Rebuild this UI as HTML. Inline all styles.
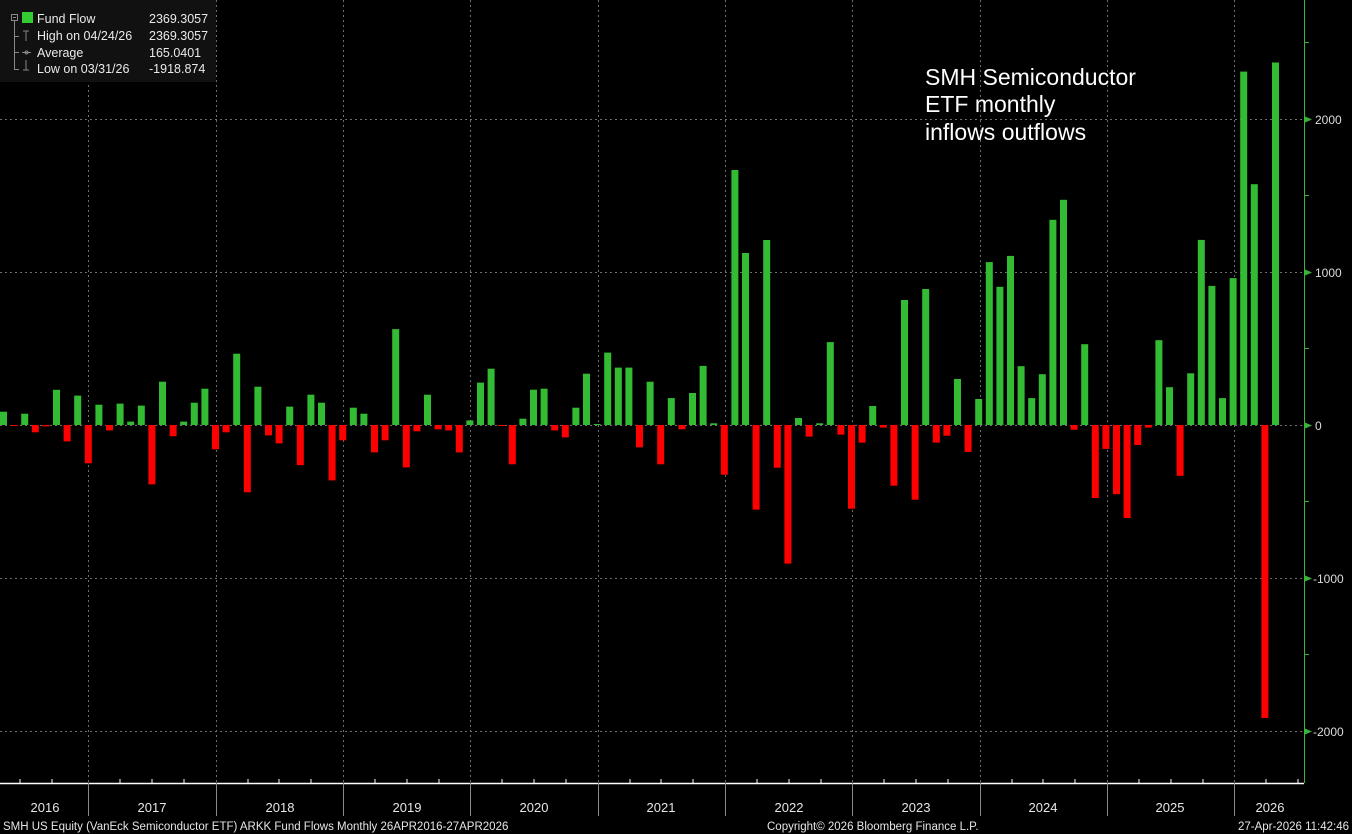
<!DOCTYPE html>
<html><head><meta charset="utf-8"><style>
html,body{margin:0;padding:0;background:#000;}
svg{display:block;font-family:"Liberation Sans",sans-serif;}
</style></head><body>
<svg width="1352" height="834" viewBox="0 0 1352 834" xmlns="http://www.w3.org/2000/svg">
<rect width="1352" height="834" fill="#000"/>
<g stroke="#6e6e6e" stroke-width="1" stroke-dasharray="2,3">
<line x1="0" y1="119.5" x2="1304" y2="119.5"/>
<line x1="0" y1="272.5" x2="1304" y2="272.5"/>
<line x1="0" y1="425.5" x2="1304" y2="425.5"/>
<line x1="0" y1="578.5" x2="1304" y2="578.5"/>
<line x1="0" y1="731.5" x2="1304" y2="731.5"/>
<line x1="88.5" y1="0" x2="88.5" y2="783"/>
<line x1="216.5" y1="0" x2="216.5" y2="783"/>
<line x1="343.5" y1="0" x2="343.5" y2="783"/>
<line x1="470.5" y1="0" x2="470.5" y2="783"/>
<line x1="598.5" y1="0" x2="598.5" y2="783"/>
<line x1="725.5" y1="0" x2="725.5" y2="783"/>
<line x1="852.5" y1="0" x2="852.5" y2="783"/>
<line x1="980.5" y1="0" x2="980.5" y2="783"/>
<line x1="1107.5" y1="0" x2="1107.5" y2="783"/>
<line x1="1234.5" y1="0" x2="1234.5" y2="783"/>
</g>
<g fill="#33bb33">
<rect x="0" y="411.7" width="7" height="13.3"/>
<rect x="21.2" y="413.7" width="7" height="11.3"/>
<rect x="53" y="389.8" width="7" height="35.2"/>
<rect x="74.2" y="395.6" width="7" height="29.4"/>
<rect x="95.4" y="404.7" width="7" height="20.3"/>
<rect x="116.6" y="403.6" width="7" height="21.4"/>
<rect x="127.2" y="421.6" width="7" height="3.4"/>
<rect x="137.8" y="405.6" width="7" height="19.4"/>
<rect x="159" y="381.7" width="7" height="43.3"/>
<rect x="180.2" y="421.6" width="7" height="3.4"/>
<rect x="190.8" y="402.7" width="7" height="22.3"/>
<rect x="201.4" y="388.7" width="7" height="36.3"/>
<rect x="233.2" y="353.7" width="7" height="71.3"/>
<rect x="254.4" y="386.7" width="7" height="38.3"/>
<rect x="286.2" y="406.6" width="7" height="18.4"/>
<rect x="307.4" y="394.7" width="7" height="30.3"/>
<rect x="318" y="402.7" width="7" height="22.3"/>
<rect x="349.8" y="407.7" width="7" height="17.3"/>
<rect x="360.4" y="413.7" width="7" height="11.3"/>
<rect x="392.2" y="329.1" width="7" height="95.9"/>
<rect x="424" y="394.7" width="7" height="30.3"/>
<rect x="466.4" y="420.4" width="7" height="4.6"/>
<rect x="477" y="382.6" width="7" height="42.4"/>
<rect x="487.6" y="368.7" width="7" height="56.3"/>
<rect x="519.4" y="418.7" width="7" height="6.3"/>
<rect x="530" y="389.7" width="7" height="35.3"/>
<rect x="540.6" y="388.7" width="7" height="36.3"/>
<rect x="572.4" y="407.7" width="7" height="17.3"/>
<rect x="583" y="373.7" width="7" height="51.3"/>
<rect x="593.6" y="424" width="7" height="1"/>
<rect x="604.2" y="352.6" width="7" height="72.4"/>
<rect x="614.8" y="367.6" width="7" height="57.4"/>
<rect x="625.4" y="367.6" width="7" height="57.4"/>
<rect x="646.6" y="381.7" width="7" height="43.3"/>
<rect x="667.8" y="398.1" width="7" height="26.9"/>
<rect x="689" y="393" width="7" height="32"/>
<rect x="699.6" y="365.9" width="7" height="59.1"/>
<rect x="710.2" y="423.3" width="7" height="1.7"/>
<rect x="731.4" y="170" width="7" height="255"/>
<rect x="742" y="253" width="7" height="172"/>
<rect x="763.2" y="240" width="7" height="185"/>
<rect x="795" y="418" width="7" height="7"/>
<rect x="816.2" y="423.3" width="7" height="1.7"/>
<rect x="826.8" y="342.1" width="7" height="82.9"/>
<rect x="869.2" y="406" width="7" height="19"/>
<rect x="901" y="300" width="7" height="125"/>
<rect x="922.2" y="289" width="7" height="136"/>
<rect x="954" y="379" width="7" height="46"/>
<rect x="975.2" y="399" width="7" height="26"/>
<rect x="985.8" y="262.1" width="7" height="162.9"/>
<rect x="996.4" y="286.8" width="7" height="138.2"/>
<rect x="1007" y="255.9" width="7" height="169.1"/>
<rect x="1017.6" y="366.2" width="7" height="58.8"/>
<rect x="1028.2" y="398.1" width="7" height="26.9"/>
<rect x="1038.8" y="374.2" width="7" height="50.8"/>
<rect x="1049.4" y="219.8" width="7" height="205.2"/>
<rect x="1060" y="199.8" width="7" height="225.2"/>
<rect x="1081.2" y="344.2" width="7" height="80.8"/>
<rect x="1155.4" y="340.2" width="7" height="84.8"/>
<rect x="1166" y="387.2" width="7" height="37.8"/>
<rect x="1187.2" y="373.3" width="7" height="51.7"/>
<rect x="1197.8" y="239.9" width="7" height="185.1"/>
<rect x="1208.4" y="285.9" width="7" height="139.1"/>
<rect x="1219" y="398.1" width="7" height="26.9"/>
<rect x="1229.6" y="278.1" width="7" height="146.9"/>
<rect x="1240.2" y="71.6" width="7" height="353.4"/>
<rect x="1250.8" y="184.2" width="7" height="240.8"/>
<rect x="1272" y="62.5" width="7" height="362.5"/>
</g>
<g fill="#ff0000">
<rect x="10.6" y="425" width="7" height="1"/>
<rect x="31.8" y="425" width="7" height="7.3"/>
<rect x="42.4" y="425" width="7" height="1.4"/>
<rect x="63.6" y="425" width="7" height="16.4"/>
<rect x="84.8" y="425" width="7" height="38.3"/>
<rect x="106" y="425" width="7" height="5.4"/>
<rect x="148.4" y="425" width="7" height="59.4"/>
<rect x="169.6" y="425" width="7" height="11.3"/>
<rect x="212" y="425" width="7" height="24.3"/>
<rect x="222.6" y="425" width="7" height="7.3"/>
<rect x="243.8" y="425" width="7" height="67.3"/>
<rect x="265" y="425" width="7" height="10.4"/>
<rect x="275.6" y="425" width="7" height="18.4"/>
<rect x="296.8" y="425" width="7" height="40.2"/>
<rect x="328.6" y="425" width="7" height="55.4"/>
<rect x="339.2" y="425" width="7" height="15.3"/>
<rect x="371" y="425" width="7" height="27.4"/>
<rect x="381.6" y="425" width="7" height="15.3"/>
<rect x="402.8" y="425" width="7" height="42.4"/>
<rect x="413.4" y="425" width="7" height="6.3"/>
<rect x="434.6" y="425" width="7" height="4.3"/>
<rect x="445.2" y="425" width="7" height="5.4"/>
<rect x="455.8" y="425" width="7" height="27.4"/>
<rect x="498.2" y="425" width="7" height="1"/>
<rect x="508.8" y="425" width="7" height="39.3"/>
<rect x="551.2" y="425" width="7" height="5.4"/>
<rect x="561.8" y="425" width="7" height="12.4"/>
<rect x="636" y="425" width="7" height="22.3"/>
<rect x="657.2" y="425" width="7" height="39.3"/>
<rect x="678.4" y="425" width="7" height="4.3"/>
<rect x="720.8" y="425" width="7" height="49.7"/>
<rect x="752.6" y="425" width="7" height="84.6"/>
<rect x="773.8" y="425" width="7" height="42.7"/>
<rect x="784.4" y="425" width="7" height="138.6"/>
<rect x="805.6" y="425" width="7" height="11.6"/>
<rect x="837.4" y="425" width="7" height="9.6"/>
<rect x="848" y="425" width="7" height="83.7"/>
<rect x="858.6" y="425" width="7" height="17.6"/>
<rect x="879.8" y="425" width="7" height="2.6"/>
<rect x="890.4" y="425" width="7" height="60.7"/>
<rect x="911.6" y="425" width="7" height="74.7"/>
<rect x="932.8" y="425" width="7" height="17.6"/>
<rect x="943.4" y="425" width="7" height="10.7"/>
<rect x="964.6" y="425" width="7" height="26.9"/>
<rect x="1070.6" y="425" width="7" height="4.7"/>
<rect x="1091.8" y="425" width="7" height="73"/>
<rect x="1102.4" y="425" width="7" height="23.9"/>
<rect x="1113" y="425" width="7" height="69.2"/>
<rect x="1123.6" y="425" width="7" height="93"/>
<rect x="1134.2" y="425" width="7" height="20"/>
<rect x="1144.8" y="425" width="7" height="2.6"/>
<rect x="1176.6" y="425" width="7" height="50.8"/>
<rect x="1261.4" y="425" width="7" height="293"/>
</g>
<!-- right axis -->
<line x1="1304.5" y1="0" x2="1304.5" y2="783" stroke="#3cb43c" stroke-width="1"/>
<g stroke="#3cb43c" stroke-width="1">
<line x1="1304" y1="42.5" x2="1309" y2="42.5"/>
<line x1="1304" y1="195.5" x2="1309" y2="195.5"/>
<line x1="1304" y1="348.5" x2="1309" y2="348.5"/>
<line x1="1304" y1="501.5" x2="1309" y2="501.5"/>
<line x1="1304" y1="654.5" x2="1309" y2="654.5"/>
</g>
<g fill="#3cb43c">
<polygon points="1305,116.5 1312,119.5 1305,122.5"/>
<polygon points="1305,269.5 1312,272.5 1305,275.5"/>
<polygon points="1305,422.5 1312,425.5 1305,428.5"/>
<polygon points="1305,575.5 1312,578.5 1305,581.5"/>
<polygon points="1305,728.5 1312,731.5 1305,734.5"/>
</g>
<g fill="#dcdcdc" font-size="12">
<text x="1315" y="124">2000</text>
<text x="1315" y="277">1000</text>
<text x="1315" y="430">0</text>
<text x="1313" y="583">-1000</text>
<text x="1313" y="736">-2000</text>
</g>
<!-- bottom axis -->
<line x1="0" y1="783.5" x2="1304" y2="783.5" stroke="#fff" stroke-width="1.5"/>
<g stroke="#fff" stroke-width="1">
<line x1="20" y1="779" x2="20" y2="783"/><line x1="52" y1="779" x2="52" y2="783"/>
<line x1="120" y1="779" x2="120" y2="783"/><line x1="152" y1="779" x2="152" y2="783"/><line x1="184" y1="779" x2="184" y2="783"/>
<line x1="248" y1="779" x2="248" y2="783"/><line x1="279" y1="779" x2="279" y2="783"/><line x1="311" y1="779" x2="311" y2="783"/>
<line x1="375" y1="779" x2="375" y2="783"/><line x1="407" y1="779" x2="407" y2="783"/><line x1="439" y1="779" x2="439" y2="783"/>
<line x1="502" y1="779" x2="502" y2="783"/><line x1="534" y1="779" x2="534" y2="783"/><line x1="566" y1="779" x2="566" y2="783"/>
<line x1="630" y1="779" x2="630" y2="783"/><line x1="661" y1="779" x2="661" y2="783"/><line x1="693" y1="779" x2="693" y2="783"/>
<line x1="757" y1="779" x2="757" y2="783"/><line x1="789" y1="779" x2="789" y2="783"/><line x1="821" y1="779" x2="821" y2="783"/>
<line x1="884" y1="779" x2="884" y2="783"/><line x1="916" y1="779" x2="916" y2="783"/><line x1="948" y1="779" x2="948" y2="783"/>
<line x1="1012" y1="779" x2="1012" y2="783"/><line x1="1043" y1="779" x2="1043" y2="783"/><line x1="1075" y1="779" x2="1075" y2="783"/>
<line x1="1139" y1="779" x2="1139" y2="783"/><line x1="1171" y1="779" x2="1171" y2="783"/><line x1="1203" y1="779" x2="1203" y2="783"/>
<line x1="1266" y1="779" x2="1266" y2="783"/><line x1="1298" y1="779" x2="1298" y2="783"/>
</g>
<g stroke="#8a8a8a" stroke-width="1">
<line x1="88.5" y1="783" x2="88.5" y2="816"/><line x1="216.5" y1="783" x2="216.5" y2="816"/>
<line x1="343.5" y1="783" x2="343.5" y2="816"/><line x1="470.5" y1="783" x2="470.5" y2="816"/>
<line x1="598.5" y1="783" x2="598.5" y2="816"/><line x1="725.5" y1="783" x2="725.5" y2="816"/>
<line x1="852.5" y1="783" x2="852.5" y2="816"/><line x1="980.5" y1="783" x2="980.5" y2="816"/>
<line x1="1107.5" y1="783" x2="1107.5" y2="816"/><line x1="1234.5" y1="783" x2="1234.5" y2="816"/>
</g>
<g fill="#e6e6e6" font-size="13" text-anchor="middle">
<text x="45" y="812">2016</text><text x="152" y="812">2017</text><text x="280" y="812">2018</text>
<text x="407" y="812">2019</text><text x="534" y="812">2020</text><text x="661" y="812">2021</text>
<text x="789" y="812">2022</text><text x="916" y="812">2023</text><text x="1043" y="812">2024</text>
<text x="1170" y="812">2025</text><text x="1270" y="812">2026</text>
</g>
<g fill="#e6e6e6" font-size="11.5">
<text x="3" y="830">SMH US Equity (VanEck Semiconductor ETF) ARKK Fund Flows Monthly 26APR2016-27APR2026</text>
<text x="767" y="830">Copyright© 2026 Bloomberg Finance L.P.</text>
<text x="1349" y="830" text-anchor="end">27-Apr-2026 11:42:46</text>
</g>
<!-- annotation -->
<g fill="#ffffff" font-size="23">
<text x="925" y="85">SMH Semiconductor</text>
<text x="925" y="112">ETF monthly</text>
<text x="925" y="140">inflows outflows</text>
</g>
<!-- legend -->
<rect x="0" y="0" width="216" height="82" fill="#111"/>
<g stroke="#888" stroke-width="1" fill="none">
<rect x="11.5" y="14.5" width="6" height="6"/>
<line x1="13" y1="17.5" x2="16" y2="17.5"/>
<line x1="14.5" y1="21" x2="14.5" y2="70"/>
<line x1="14.5" y1="36.5" x2="19" y2="36.5"/>
<line x1="14.5" y1="52.5" x2="19" y2="52.5"/>
<line x1="14.5" y1="69.5" x2="19" y2="69.5"/>
<line x1="23" y1="31" x2="29" y2="31"/><line x1="26" y1="31" x2="26" y2="41"/>
<line x1="22" y1="52.5" x2="31" y2="52.5"/><circle cx="26.5" cy="52.5" r="1.5"/>
<line x1="26" y1="60" x2="26" y2="70"/><line x1="23" y1="70" x2="29" y2="70"/>
</g>
<rect x="22" y="12" width="11" height="11" fill="#33cc33"/>
<g fill="#eaeaea" font-size="12.5">
<text x="37" y="23">Fund Flow</text><text x="149" y="23">2369.3057</text>
<text x="37" y="40">High on 04/24/26</text><text x="149" y="40">2369.3057</text>
<text x="37" y="57">Average</text><text x="149" y="57">165.0401</text>
<text x="37" y="73">Low on 03/31/26</text><text x="149" y="73">-1918.874</text>
</g>
</svg>
</body></html>
